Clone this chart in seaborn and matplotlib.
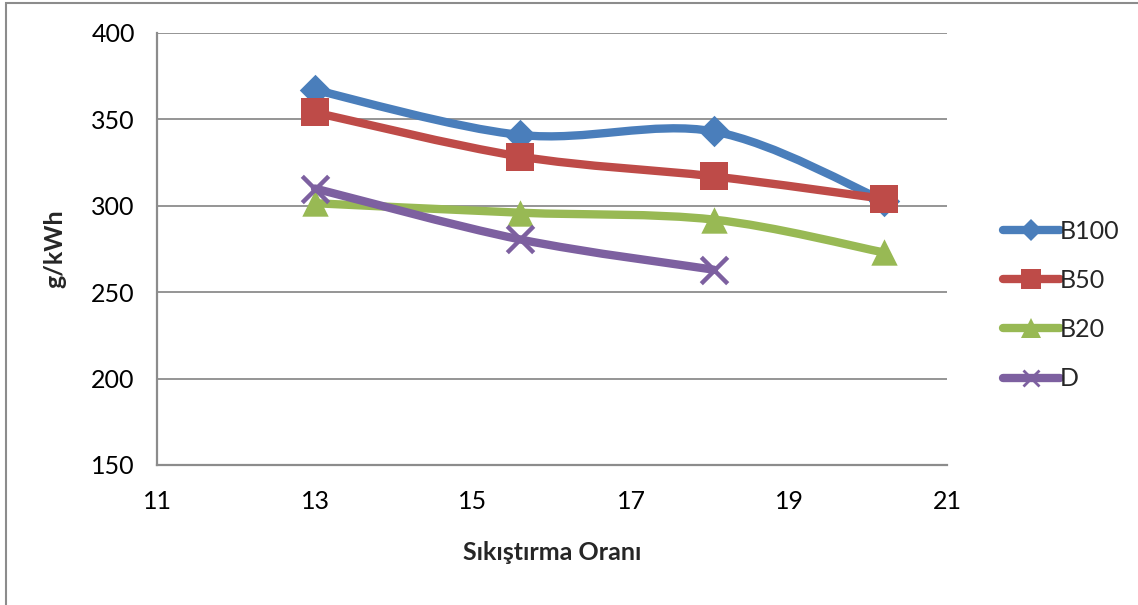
import numpy as np
import pandas as pd
import matplotlib
matplotlib.use("Agg")
import matplotlib.pyplot as plt
from matplotlib.path import Path
from matplotlib.patches import PathPatch, Rectangle
from matplotlib.lines import Line2D
import seaborn as sns

# Compression ratio vs. specific fuel consumption
compression = [13.0, 15.6, 18.05, 20.2]
b100 = [367, 341, 343, 303]
b50 = [354, 328.5, 317, 304]
b20 = [301.5, 296, 292, 273]
diesel = [310, 280.5, 263]

series_names = ["B100", "B50", "B20", "D"]
series_values = [b100, b50, b20, diesel]
colors = ["#4A7EBB", "#BE4B48", "#98B954", "#7D60A0"]
markers = ["D", "s", "^", "x"]
marker_sizes = [16, 20, 19, 19]

x_ticks = [11, 13, 15, 17, 19, 21]
y_ticks = [150, 200, 250, 300, 350, 400]

frames = []
for name, vals in zip(series_names, series_values):
    frames.append(pd.DataFrame({"ratio": compression[:len(vals)], "value": vals, "fuel": name}))
df = pd.concat(frames, ignore_index=True)

sns.set_theme(style="white")
plt.rcParams["font.family"] = ["Lato", "DejaVu Sans"]

FS = 18

fig = plt.figure(figsize=(11.38, 6.05), dpi=100)
ax = fig.add_axes([157 / 1138, 1 - 465 / 605, 790 / 1138, 432 / 605])

# outer chart frame
fig.patches.append(Rectangle((6 / 1138, -0.05), 1.2, (605 - 3) / 605 + 0.05,
                             transform=fig.transFigure, fill=False,
                             edgecolor="#8C8C8C", linewidth=1.5, zorder=0))


def smooth_path(xs, ys):
    """Cubic Bezier path through the points (Catmull-Rom style tangents)."""
    pts = np.column_stack([xs, ys]).astype(float)
    n = len(pts)
    verts = [pts[0]]
    codes = [Path.MOVETO]
    for i in range(n - 1):
        p0 = pts[i - 1] if i > 0 else pts[i]
        p1 = pts[i]
        p2 = pts[i + 1]
        p3 = pts[i + 2] if i + 2 < n else pts[i + 1]
        c1 = p1 + (p2 - p0) / 6.0
        c2 = p2 - (p3 - p1) / 6.0
        verts += [c1, c2, p2]
        codes += [Path.CURVE4] * 3
    return Path(verts, codes)


for i, (name, color, mk, ms) in enumerate(zip(series_names, colors, markers, marker_sizes)):
    sub = df[df["fuel"] == name]
    patch = PathPatch(smooth_path(sub["ratio"].values, sub["value"].values),
                      fill=False, edgecolor=color, linewidth=6,
                      capstyle="round", joinstyle="round", zorder=3 + i)
    ax.add_patch(patch)
    if mk == "x":
        sns.scatterplot(data=sub, x="ratio", y="value", marker="x", s=ms ** 2,
                        color=color, linewidth=3.2, ax=ax, zorder=10 + i, legend=False)
    else:
        sns.scatterplot(data=sub, x="ratio", y="value", marker=mk, s=ms ** 2,
                        color=color, edgecolor=color, linewidth=0, ax=ax,
                        zorder=10 + i, legend=False)

ax.set_xlim(11, 21)
ax.set_ylim(150, 400)
ax.set_xticks(x_ticks)
ax.set_yticks(y_ticks)
ax.set_xticklabels([str(t) for t in x_ticks], fontsize=FS)
ax.set_yticklabels([str(t) for t in y_ticks], fontsize=FS)

ax.grid(axis="y", color="#8C8C8C", linewidth=1.3)
ax.grid(axis="x", visible=False)
ax.set_axisbelow(True)
for side in ["top", "right"]:
    ax.spines[side].set_visible(False)
for side in ["left", "bottom"]:
    ax.spines[side].set_color("#8C8C8C")
    ax.spines[side].set_linewidth(1.6)
ax.tick_params(axis="both", which="major", direction="out", length=6, width=1.3,
               color="#8C8C8C", labelcolor="black")
ax.tick_params(axis="x", pad=12)
ax.tick_params(axis="y", pad=10)

ax.set_xlabel("Sıkıştırma Oranı", fontsize=FS, fontweight="bold", labelpad=20)
ax.set_ylabel("g/kWh", fontsize=FS, fontweight="bold", labelpad=18)

handles = []
legend_ms = [11, 14, 14, 12]
for name, color, mk, ms in zip(series_names, colors, markers, legend_ms):
    handles.append(Line2D([0], [0], color=color, linewidth=6, solid_capstyle="round",
                          marker=mk, markersize=ms, markerfacecolor=color,
                          markeredgecolor=color, markeredgewidth=2 if mk == "x" else 0))
leg = fig.legend(handles=handles, labels=series_names, loc="center left",
                 bbox_to_anchor=(980 / 1138, 1 - 305 / 605), frameon=False,
                 fontsize=FS, handlelength=2.3, handletextpad=0.0, labelspacing=1.05)

fig.savefig("out.png", dpi=100)
